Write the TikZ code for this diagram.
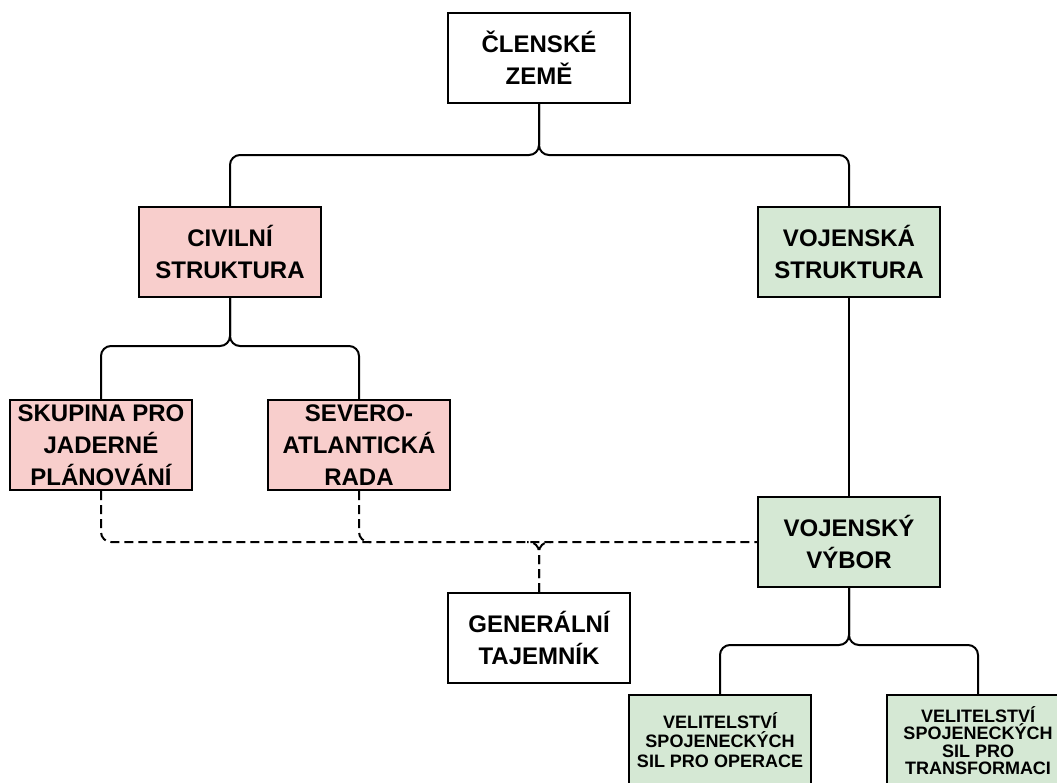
\documentclass[tikz,border=0pt]{standalone}
\usepackage{fontspec}
\setmainfont{Liberation Sans}
\usepackage{tikz}
\usetikzlibrary{positioning}
\definecolor{civil}{RGB}{248,206,204}
\definecolor{vojen}{RGB}{213,232,212}
\tikzstyle{every node}=[font=\bfseries\fontsize{24}{32}\selectfont]
\tikzset{BoxStyle/.style = {
			      shape          = rectangle,
			      draw           = black,
			      line width     = 2pt,
			      fill           = white,
			      align          = center,
			      inner sep      = 0pt,
			      minimum width  = 182pt,
			      minimum height = 90pt}
						}
\tikzset{SmallBox/.style = {
			      BoxStyle,
			      fill           = vojen,
			      font           = \bfseries\fontsize{18}{19.5}\selectfont}
						}
\tikzset{LinkStyle/.style = {line width=2pt, rounded corners=10pt}}
\tikzset{DashStyle/.style = {LinkStyle, dash pattern=on 9pt off 5pt}}
\begin{document}
\begin{tikzpicture}[x=1pt,y=-1pt,auto]
							\clip (0,0) rectangle (1057,782);
							\fill[white] (0,0) rectangle (1057,782);

							\draw (539,58) node[BoxStyle]   (Z) { ČLENSKÉ\\ZEMĚ };

							\draw (230,252) node[BoxStyle, fill=civil]   (CS) { CIVILNÍ\\STRUKTURA };
							\draw (849,252) node[BoxStyle, fill=vojen]   (VS) { VOJENSKÁ\\STRUKTURA };

							\draw (101,445) node[BoxStyle, fill=civil]   (SJ) { SKUPINA PRO\\JADERNÉ\\PLÁNOVÁNÍ };
							\draw (359,445) node[BoxStyle, fill=civil]   (SR) { SEVERO-\\ATLANTICKÁ\\RADA };

							\draw (849,542) node[BoxStyle, fill=vojen]   (VV) { VOJENSKÝ\\VÝBOR };
							\draw (539,638) node[BoxStyle]   (GT) { GENERÁLNÍ\\TAJEMNÍK };

							\draw (720,740) node[SmallBox]   (VO) { VELITELSTVÍ\\SPOJENECKÝCH\\SIL PRO OPERACE };
							\draw (978,745) node[SmallBox, minimum height=100pt, font=\bfseries\fontsize{18}{17.5}\selectfont]   (VT) { VELITELSTVÍ\\SPOJENECKÝCH\\SIL PRO\\TRANSFORMACI\vspace{9pt} };

							\draw[LinkStyle]    (CS.north) |- (539,155) -- (Z.south);
							\draw[LinkStyle]    (VS.north) |- (539,155) -- (Z.south);

							\draw[LinkStyle]    (SJ.north) |- (230,346) -- (CS.south);
							\draw[LinkStyle]    (SR.north) |- (230,346) -- (CS.south);

							\draw[LinkStyle]    (VS.south) -- (VV.north);

							\draw[LinkStyle]    (VO.north) |- (849,645) -- (VV.south);
							\draw[LinkStyle]    (VT.north) |- (849,645) -- (VV.south);

							% dashed links join the one line to the committee
							\coordinate (J1) at (371,542);
							\coordinate (J2) at (551,542);
							\coordinate (J3) at (527,542);
							\draw[DashStyle]    (SJ.south) |- (VV.west);
							\draw[DashStyle]    (SR.south) |- (J1);
							\draw[DashStyle]    (GT.north) |- (J2);
							\draw[DashStyle]    (GT.north) |- (J3);

\end{tikzpicture}
\end{document}
